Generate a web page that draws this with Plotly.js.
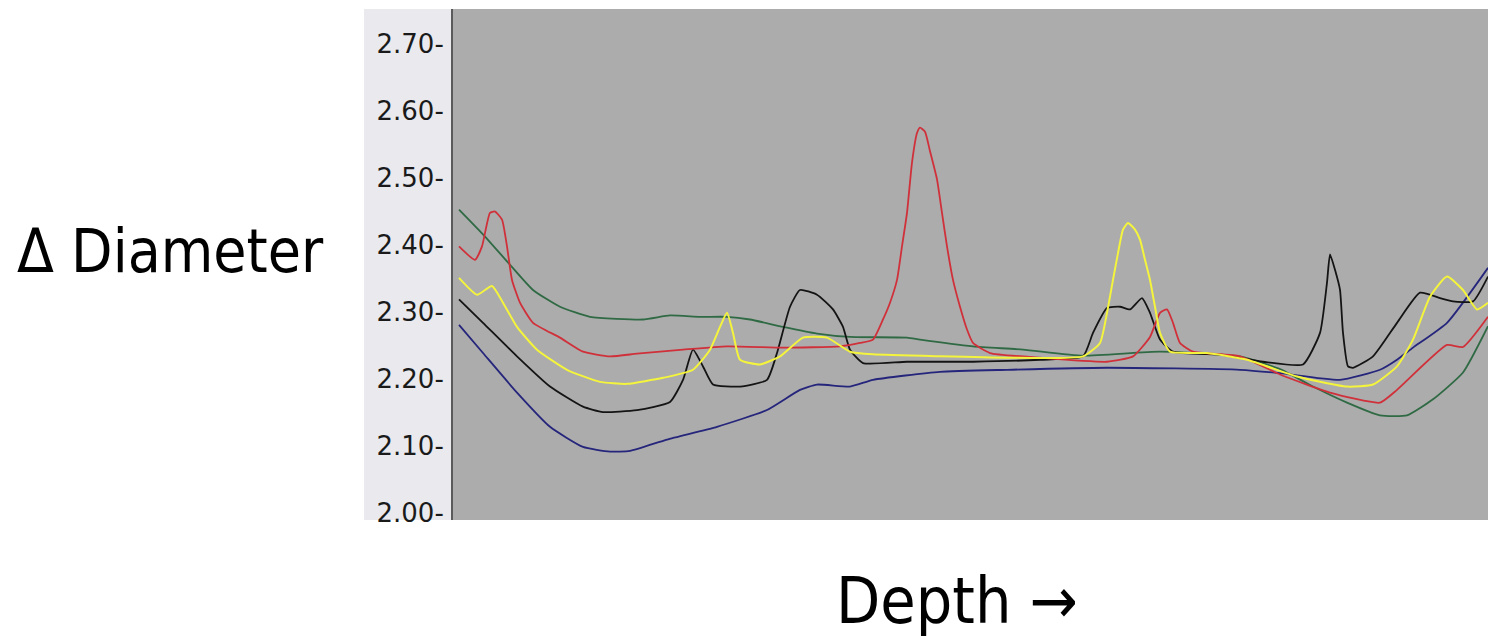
<!DOCTYPE html>
<html>
<head>
<meta charset="utf-8">
<script src="https://cdn.plot.ly/plotly-3.0.1.min.js"></script>
<style>
  html, body { margin: 0; padding: 0; background: #ffffff; }
  #chart { width: 1488px; height: 637px; }
</style>
</head>
<body>
<div id="chart"></div>
<script>
// Depth positions (arbitrary depth units) and diameter readings for each profile
const greenDepth = [6, 30, 55, 80, 107, 137, 190, 217, 247, 274, 297, 330, 364, 397, 454, 467, 520, 570, 630, 707, 787, 827, 860, 894, 927, 954, 980, 1010, 1035];
const greenDiam  = [2.453, 2.416, 2.374, 2.333, 2.308, 2.293, 2.289, 2.295, 2.293, 2.293, 2.289, 2.278, 2.268, 2.263, 2.262, 2.259, 2.249, 2.244, 2.235, 2.241, 2.234, 2.215, 2.189, 2.165, 2.146, 2.146, 2.170, 2.210, 2.279];

const redDepth = [6, 22, 29, 37, 42, 49, 54, 59, 67, 80, 107, 130, 157, 184, 230, 274, 330, 387, 407, 420, 430, 437, 444, 449, 454, 459, 464, 467, 472, 477, 484, 489, 494, 500, 507, 514, 520, 537, 587, 654, 680, 697, 707, 714, 720, 727, 740, 787, 827, 877, 927, 944, 994, 1010, 1035];
const redDiam  = [2.398, 2.378, 2.398, 2.448, 2.450, 2.438, 2.398, 2.348, 2.314, 2.284, 2.262, 2.241, 2.234, 2.238, 2.244, 2.249, 2.247, 2.249, 2.254, 2.259, 2.289, 2.314, 2.348, 2.398, 2.448, 2.523, 2.567, 2.575, 2.569, 2.540, 2.498, 2.448, 2.398, 2.348, 2.308, 2.274, 2.254, 2.239, 2.232, 2.226, 2.234, 2.263, 2.299, 2.304, 2.284, 2.254, 2.241, 2.234, 2.207, 2.180, 2.165, 2.184, 2.251, 2.248, 2.293];

const yellowDepth = [6, 24, 39, 50, 64, 84, 114, 147, 174, 210, 240, 257, 267, 274, 280, 287, 307, 327, 350, 374, 397, 420, 487, 554, 630, 647, 654, 660, 665, 670, 675, 682, 687, 692, 697, 702, 707, 717, 754, 794, 844, 894, 920, 944, 960, 977, 994, 1010, 1024, 1035];
const yellowDiam  = [2.351, 2.326, 2.339, 2.314, 2.278, 2.244, 2.214, 2.196, 2.193, 2.202, 2.214, 2.244, 2.278, 2.299, 2.269, 2.229, 2.222, 2.234, 2.262, 2.262, 2.241, 2.237, 2.234, 2.232, 2.234, 2.254, 2.299, 2.348, 2.388, 2.423, 2.433, 2.423, 2.408, 2.378, 2.348, 2.308, 2.269, 2.241, 2.239, 2.229, 2.204, 2.189, 2.192, 2.219, 2.259, 2.323, 2.353, 2.333, 2.304, 2.314];

const blackDepth = [6, 30, 64, 97, 130, 150, 184, 217, 230, 240, 250, 260, 287, 314, 324, 337, 347, 364, 380, 390, 397, 410, 454, 520, 587, 630, 640, 654, 667, 677, 689, 697, 707, 720, 770, 810, 850, 867, 874, 877, 882, 887, 890, 895, 900, 920, 944, 967, 987, 1000, 1020, 1035];
const blackDiam  = [2.319, 2.284, 2.234, 2.189, 2.159, 2.151, 2.154, 2.166, 2.199, 2.244, 2.219, 2.192, 2.189, 2.199, 2.239, 2.308, 2.333, 2.326, 2.304, 2.278, 2.244, 2.224, 2.226, 2.226, 2.229, 2.234, 2.269, 2.306, 2.308, 2.304, 2.321, 2.299, 2.259, 2.241, 2.236, 2.226, 2.222, 2.269, 2.344, 2.386, 2.363, 2.333, 2.269, 2.219, 2.217, 2.234, 2.284, 2.329, 2.321, 2.316, 2.316, 2.353];

const blueDepth = [6, 30, 64, 97, 130, 157, 177, 214, 264, 314, 347, 364, 397, 420, 487, 554, 654, 787, 827, 887, 927, 944, 960, 994, 1035];
const blueDiam  = [2.281, 2.239, 2.180, 2.129, 2.099, 2.092, 2.093, 2.110, 2.129, 2.154, 2.184, 2.192, 2.189, 2.199, 2.211, 2.214, 2.217, 2.214, 2.209, 2.199, 2.214, 2.229, 2.247, 2.284, 2.366];

const yTicks = [2.00, 2.10, 2.20, 2.30, 2.40, 2.50, 2.60, 2.70];
const yTickText = yTicks.map(v => v.toFixed(2) + "-");
const yTitle = "Δ Diameter";
const xTitle = "Depth →";

function mk(x, y, color, w) {
  return { x: x, y: y, type: "scatter", mode: "lines",
           line: { color: color, width: w, shape: "spline", smoothing: 0.5 },
           hoverinfo: "skip", showlegend: false };
}

const traces = [
  mk(greenDepth, greenDiam, "#2f6a44", 1.8),
  mk(blueDepth, blueDiam, "#25257c", 1.8),
  mk(blackDepth, blackDiam, "#141414", 1.8),
  mk(redDepth, redDiam, "#d0303a", 1.8),
  mk(yellowDepth, yellowDiam, "#f4f43c", 2)
];

const layout = {
  width: 1488, height: 637,
  margin: { l: 453, r: 0, t: 9, b: 117, pad: 0 },
  paper_bgcolor: "#ffffff",
  plot_bgcolor: "#acacac",
  showlegend: false,
  xaxis: {
    range: [0, 1035], showgrid: false, zeroline: false, showticklabels: false,
    ticks: "", showline: false
  },
  yaxis: {
    range: [1.99, 2.752], showgrid: false, zeroline: false,
    tickmode: "array", tickvals: yTicks, ticktext: yTickText, ticks: "",
    tickfont: { family: "DejaVu Sans, Verdana, sans-serif", size: 26, color: "#1a1a1a" },
    showline: true, linecolor: "#5a5a5a", linewidth: 2,
    ticklabelstandoff: 2
  },
  shapes: [{
    type: "rect", xref: "paper", yref: "paper",
    x0: (364 - 453) / 1035, x1: 0, y0: 0, y1: 1,
    fillcolor: "#e9e9ee", line: { width: 0 }, layer: "below"
  }],
  annotations: [
    { text: yTitle, xref: "paper", yref: "paper", x: (170 - 453) / 1035, y: (520 - 251) / 511,
      xanchor: "center", yanchor: "middle", showarrow: false,
      font: { family: "DejaVu Sans Condensed, DejaVu Sans, sans-serif", size: 60, color: "#000" } },
    { text: xTitle, xref: "paper", yref: "paper", x: (957 - 453) / 1035, y: (520 - 601) / 511,
      xanchor: "center", yanchor: "middle", showarrow: false,
      font: { family: "DejaVu Sans Condensed, DejaVu Sans, sans-serif", size: 64, color: "#000" } }
  ]
};

Plotly.newPlot("chart", traces, layout, { staticPlot: true, displayModeBar: false });
</script>
</body>
</html>
